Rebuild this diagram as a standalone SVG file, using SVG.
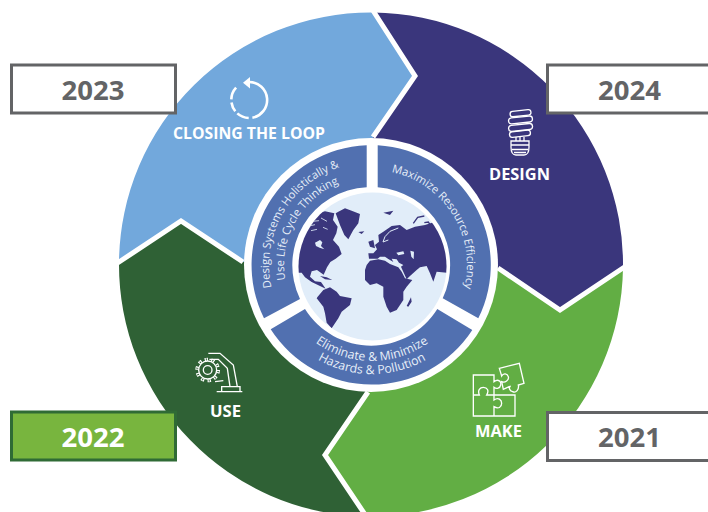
<svg xmlns="http://www.w3.org/2000/svg" width="708" height="512" viewBox="0 0 708 512">
<style>
text{font-family:"Open Sans","Noto Sans","Liberation Sans",sans-serif}
.lbl{font-weight:700;font-size:15.5px;fill:#fff;text-anchor:middle}
.yr{font-weight:700;font-size:27.500px;fill:#636466;text-anchor:middle}
.arc{font-size:11.200px;fill:#e6eef8;text-anchor:middle}
.arcb{font-size:12.300px;fill:#e6eef8;text-anchor:middle}
.box{fill:#fff;stroke:#636466;stroke-width:3}
.ic{fill:none;stroke:#fff;stroke-width:1.3}
.ic3{fill:none;stroke:#fff;stroke-width:4}
.band{fill:#5170b0}
.land{fill:#3a367c}
.sea{fill:#e1edf9}
</style>
<defs>
<clipPath id="gc"><circle cx="372.5" cy="266.5" r="74"/></clipPath>
<path id="p1" d="M372 170A95 95 0 0 1 457.4 306.6"/>
<path id="p2" d="M283.3 317.3A103 103 0 0 1 371.1 162"/>
<path id="p3" d="M296.6 310.3A88 88 0 0 1 370.5 177"/>
<path id="p4" d="M298.5 326.7A96 96 0 0 0 445.5 326.7"/>
<path id="p5" d="M288.5 335.1A109 109 0 0 0 455.5 335.1"/>
</defs>
<g id="loop">
<path fill="#72a8dc" d="M373 12.5L415 76L373 137L371 265L243 262L181 221L119 262A252 252 0 0 1 373 12.5Z"/>
<path fill="none" stroke="#fff" stroke-width="2.6" d="M249.3 82A18 18 0 0 1 252.4 117.7M248.7 118A18 18 0 0 1 237.3 113.4M235.3 111.3A18 18 0 0 1 231.5 102.5M231.3 99.4A18 18 0 0 1 236.1 87.7"/>
<path fill="#fff" d="M243 82.7L250 77V88.5Z"/>
<text class="lbl" x="249" y="139" textLength="152" lengthAdjust="spacingAndGlyphs">CLOSING THE LOOP</text>
</g>
<g id="design">
<path fill="#3a367c" d="M373 12.5A252 252 0 0 1 623 268L560 310L498 268L371 265L373 137L415 76Z"/>
<g class="ic">
<rect x="510" y="110.500" width="21" height="5.500" rx="2.700" transform="rotate(-6 520 113)"/>
<rect x="508.500" y="117" width="24" height="6" rx="3" transform="rotate(-6 520 120)"/>
<rect x="508.500" y="124.500" width="24" height="6" rx="3" transform="rotate(-6 520 127)"/>
<rect x="509.500" y="131" width="21" height="5.500" rx="2.700" transform="rotate(-6 520 134)"/>
<path d="M516 137V141M520 137V141M524 137V141M511 141H529V147Q529 155 524 155H516Q511 155 511 147ZM511 145H529M512 149.500H528M514 152.500H526"/>
</g>
<text class="lbl" x="519.500" y="180" textLength="61" lengthAdjust="spacingAndGlyphs">DESIGN</text>
</g>
<g id="make">
<path fill="#62ae44" d="M623 268A252 252 0 0 1 366 516.500L325 455L368 392L371 265L498 268L560 310Z"/>
<g transform="translate(470 350) scale(.3333)" class="ic3">
<path d="M10 75H72V95C85 85 95 95 92 105C90 115 80 118 72 112V135H135V198H10ZM10 135H28C22 120 30 112 40 112C52 112 58 122 50 135H72M72 135V150C85 140 95 150 95 160C95 172 85 178 72 170V198"/>
<path d="M88 55L148 40L162 100L145 105C148 118 138 130 128 125C118 122 115 112 122 108L100 118L95 95C105 100 118 90 115 80C112 70 100 68 95 78Z"/>
</g>
<text class="lbl" x="498.500" y="437" textLength="47" lengthAdjust="spacingAndGlyphs">MAKE</text>
</g>
<g id="use">
<path fill="#2f6135" d="M366 516.500A252 252 0 0 1 119 262L181 221L243 262L371 265L368 392L325 455Z"/>
<g transform="translate(180 340) scale(.3333)" class="ic3">
<circle cx="83" cy="90" r="13"/>
<circle cx="83" cy="90" r="27"/>
<circle cx="83" cy="90" r="32" stroke-width="10" stroke-dasharray="10 10.100"/>
<circle cx="83" cy="90" r="32" stroke="#2f6135" stroke-width="6" stroke-dasharray="3 17.100" stroke-dashoffset="-3.500"/>
<path d="M85 40H120L160 75L172 140M88 58H115L142 85L150 140M105 125L130 122M125 155V140H180V155M110 155H187"/>
</g>
<text class="lbl" x="225.500" y="417" textLength="31" lengthAdjust="spacingAndGlyphs">USE</text>
</g>
<g id="dividers" fill="none" stroke="#fff" stroke-width="5">
<path d="M372 9L415 76L373 137"/>
<path d="M116 264L181 221L243 262"/>
<path d="M498 268L560 310L626 266"/>
<path d="M368 392L325 455L368 519"/>
</g>
<circle id="hub" cx="371" cy="265" r="127" fill="#fff"/>
<g id="maximize">
<path class="band" d="M377.700 145.200A120 120 0 0 1 478.300 318.300L442.700 298.300A78 78 0 0 0 377.700 187.300Z"/>
<text class="arc"><textPath href="#p1" startOffset="50%">Maximize Resource Efficiency</textPath></text>
</g>
<g id="eliminate">
<path class="band" d="M472.300 330A120 120 0 0 1 270.700 329.300L305 309A78 78 0 0 0 437.300 309Z"/>
<text class="arcb"><textPath href="#p4" startOffset="50%">Eliminate &amp; Minimize</textPath></text>
<text class="arcb"><textPath href="#p5" startOffset="50%">Hazards &amp; Pollution</textPath></text>
</g>
<g id="systems">
<path class="band" d="M264 318.300A120 120 0 0 1 366.700 145.200V187.300A78 78 0 0 0 300 299Z"/>
<text class="arc"><textPath href="#p2" startOffset="50%">Design Systems Holistically &amp;</textPath></text>
<text class="arc"><textPath href="#p3" startOffset="50%">Use Life Cycle Thinking</textPath></text>
</g>
<g id="globe">
<circle class="sea" cx="372.500" cy="266.500" r="74"/>
<g clip-path="url(#gc)">
<g transform="translate(295 190) scale(.3333)">
<path class="land" d="M-20 120L40 92L60 72L90 64L118 70L114 90L128 110L124 130L114 150L132 170L140 192L122 206L106 216L96 232L86 254L66 240L50 244L45 260L60 274L78 276L92 296L75 288L50 276L30 262L20 248L-20 250Z"/>
<path class="sea" d="M60 158L75 150L82 157L78 168L88 178L74 173L63 168Z"/>
<path d="M42 108L60 104M52 94L72 92M48 122L66 118M78 84L96 94M84 112L98 118" fill="none" stroke="#e1edf9" stroke-width="2.500"/>
<path class="land" d="M122 70L130 65L150 55L170 62L195 72L190 100L175 120L160 148L148 135L135 105ZM190 126L208 124L200 132Z"/>
<path class="land" d="M75 258L95 262L112 270L90 268Z"/>
<path class="land" d="M68 320L85 300L105 292L125 305L135 318L170 325L165 345L140 365L130 385L110 415L95 398L90 370L85 350L65 325Z"/>
</g>
<g transform="translate(365 190) scale(.3333)">
<path class="land" d="M0 240L5 225L15 212L40 208L60 212L75 222L100 232L110 245L120 265L142 270L125 290L115 305L115 330L95 360L75 368L65 350L55 320L55 290L35 280L15 285L0 270Z"/>
<path class="land" d="M10 190L25 190L36 178L30 165L42 155L40 135L55 125L80 108L105 105L125 120L150 110L180 105L210 95L260 120L260 250L215 245L205 275L195 250L185 228L165 232L155 240L135 258L125 268L108 230L115 225L102 218L95 208L80 206L85 216L70 207L60 200L45 200L38 206L12 206Z"/>
<path d="M100 114L75 124L60 140L54 156L70 150" fill="none" stroke="#e1edf9" stroke-width="3"/>
<path class="sea" d="M94 188L115 184L118 192L100 196ZM136 182L147 185L146 208L139 200Z"/>
<path class="land" d="M10 155L25 150L30 175L15 170ZM55 68L85 62L75 75ZM125 348L138 322L140 335L130 350Z"/>
<path d="M145 100L158 82L178 78M178 98L190 96L200 112" fill="none" stroke="#3a367c" stroke-width="4"/>
</g>
</g>
</g>
<g id="y2023"><rect class="box" x="11.500" y="65" width="164" height="48"/><text class="yr" x="93" y="100">2023</text></g>
<g id="y2024"><rect class="box" x="547.500" y="65" width="170" height="48"/><text class="yr" x="629.500" y="100">2024</text></g>
<g id="y2022"><rect x="11.500" y="412" width="164" height="48" fill="#78b53e" stroke="#2f6b35" stroke-width="3"/><text class="yr" x="93" y="447" style="fill:#fff">2022</text></g>
<g id="y2021"><rect class="box" x="547.500" y="412.500" width="170" height="48"/><text class="yr" x="629.500" y="447">2021</text></g>
</svg>
